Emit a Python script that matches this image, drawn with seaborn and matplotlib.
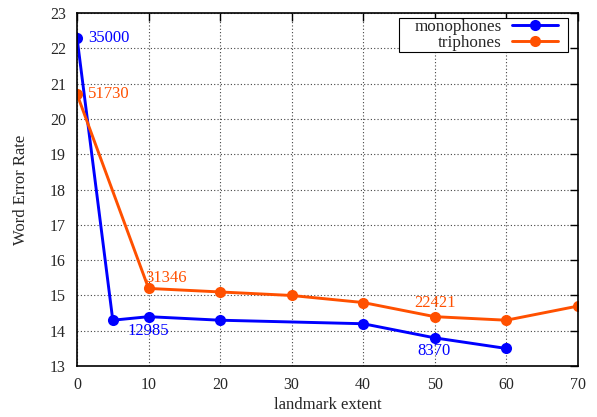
import pandas as pd
import seaborn as sns
import matplotlib.pyplot as plt
from matplotlib.patches import Rectangle

# data
mono_x = [0, 5, 10, 20, 40, 50, 60]
mono_y = [22.3, 14.3, 14.4, 14.3, 14.2, 13.8, 13.5]
tri_x = [0, 10, 20, 30, 40, 50, 60, 70]
tri_y = [20.7, 15.2, 15.1, 15.0, 14.8, 14.4, 14.3, 14.7]

mono_labels = [("35000", 1.5, 22.3), ("12985", 7.1, 14.0), ("8370", 47.6, 13.42)]
tri_labels = [("51730", 1.5, 20.7), ("31346", 9.5, 15.5), ("22421", 47.1, 14.8)]

blue = "#0000ff"
orange = "#ff5000"

df = pd.concat([
    pd.DataFrame({"extent": mono_x, "wer": mono_y, "model": "monophones"}),
    pd.DataFrame({"extent": tri_x, "wer": tri_y, "model": "triphones"}),
])

sns.set_style("white")
plt.rcParams["font.family"] = ["Liberation Serif", "DejaVu Serif"]
plt.rcParams["font.size"] = 12

fig = plt.figure(figsize=(5.97, 4.17), dpi=100)
ax = fig.add_axes([0.129, 0.122, 0.839, 0.847])

sns.lineplot(data=df, x="extent", y="wer", hue="model",
             palette={"monophones": blue, "triphones": orange},
             marker="o", markersize=8, markeredgewidth=0, linewidth=2.1,
             ax=ax, sort=False, estimator=None)

for txt, x, y in mono_labels:
    ax.text(x, y, txt, color=blue, ha="left", va="center", fontsize=12)
for txt, x, y in tri_labels:
    ax.text(x, y, txt, color=orange, ha="left", va="center", fontsize=12)

ax.set_xlim(0, 70)
ax.set_ylim(13, 23)
ax.set_xticks(range(0, 71, 10))
ax.set_yticks(range(13, 24))
ax.grid(True, linestyle=(0, (1, 2)), color="#444444", linewidth=0.8)
ax.tick_params(direction="in", length=5.5, top=True, right=True, labelsize=11.5,
               color="black", width=1, pad=8)
for s in ax.spines.values():
    s.set_color("black")
    s.set_linewidth(1.2)

ax.set_xlabel("landmark extent", fontsize=12, labelpad=3)
ax.set_ylabel("Word Error Rate", fontsize=12, labelpad=15)

# gnuplot-style key: text then sample, tight rows, wider side padding
leg = ax.legend(loc="upper right", markerfirst=False, frameon=False,
                handlelength=2.7, handletextpad=0.6, borderpad=0.0,
                labelspacing=0.0, fontsize=12.3, borderaxespad=0,
                bbox_to_anchor=(0.960, 0.983))
leg.set_zorder(5)
for t in leg.get_texts():
    t.set_ha("right")

fig.canvas.draw()
bb = leg.get_window_extent()
pad_l, pad_r = 15, 10
pad_v = max((34 - bb.height) / 2, 1)
inv = fig.transFigure.inverted()
(x0, y0) = inv.transform((bb.x0 - pad_l, bb.y0 - pad_v))
(x1, y1) = inv.transform((bb.x1 + pad_r, bb.y1 + pad_v))
frame = Rectangle((x0, y0), x1 - x0, y1 - y0, transform=fig.transFigure,
                  facecolor="white", edgecolor="black", linewidth=0.8,
                  zorder=4)
ax.add_artist(frame)
frame.set_clip_on(False)

fig.savefig("out.png", dpi=100)
